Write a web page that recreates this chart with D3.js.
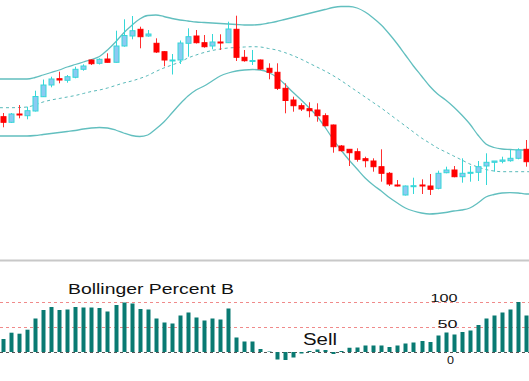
<!DOCTYPE html>
<html><head><meta charset="utf-8">
<script src="https://cdn.jsdelivr.net/npm/d3@7"></script>
<style>html,body{margin:0;padding:0;background:#fff;}svg{display:block;}</style>
</head><body>
<svg id="chart" width="529" height="381"></svg>
<script>
// ---------- data ----------
const open  = [133.3,127.7,136,134.3,139,153.3,165,171.3,169.7,172.7,180.7,190,186.7,191,187.7,204,214,220.7,214,206.7,198.3,189.8,190,206.7,214,207.3,204,208,207.3,220.7,192.7,189.2,190,181.7,177.7,161.7,150,144.3,141.3,140,134.3,125,104,100.7,98.3,91.3,89,83.3,76.7,65,55,64.1,65,64,61.7,77.3,80,73.3,77.5,77.7,84,87.7,88.7,89.3,91.7,100.7];
const high  = [137,137,145,143.3,159.3,170.5,173.3,178.3,175,183.3,185.7,190.7,191.7,196.7,219.3,230.7,234,223.3,220,211.7,199,196,209.5,221.7,220,215,216,215.7,228.3,234.3,200,200,190.5,186.7,186.7,166.7,153.3,146.7,147.7,146.7,136.7,125.5,105,101,101.7,93.3,91.7,100.7,78,70,64.5,72.3,70.7,76,79.3,83.3,84,91.7,84,89,96.7,89,93.3,100,101.7,110];
const low   = [122.7,127,131.7,130.7,138.5,153,162.7,166.7,167.3,171.7,179.3,185,185.5,187.5,187.5,203.3,210.7,201.7,213.3,197,183.7,175.5,186,193.3,206.5,202.3,200.7,200,207,189,188.3,185,180,170.7,160,136.7,138.3,139,132.7,128.3,123.5,97.3,98.5,84,88.3,82.7,78.3,68.3,64,63.5,54.5,56,56,55,60.7,76.7,72.7,67.3,68.3,69,65,78.3,86.7,88.3,90.7,83.3];
const close = [127.7,136,135.2,139.3,153.5,165,171,170,173.3,180.7,184,186.3,190.7,187.7,204,214.5,219.3,213.3,216,198,190,190,207,213.3,207.3,203.3,208,207.4,221,192.7,189.3,189.5,181,177.7,161.7,149.5,144.3,141,139.3,134.3,124.3,103.3,99.3,97.3,90.7,89.3,83.3,76.7,66,64.5,64,64.3,64.4,60.7,76.7,80,73.3,76.7,77.7,83.3,87.7,89,90,91.7,100,88.3];

const upperBand  = [171,171,171,171,172.5,175,177.5,180,183,185.5,188,190.5,193.5,200,208,217,224.5,231,234.5,235,233.5,231.5,230,229,228,227.5,227,226.5,226,225.5,225,225,225.5,227,228.5,230.5,232.5,234.5,236.5,238.5,240.5,242.5,243.5,243.5,242,238,232,225,216,206,195,184,174,164,156,150,143,135,126,115,106,102.5,101,100.5,100,100];
const middleBand = [142.3,142.3,142.5,143,145,148,150,151.5,153,154.5,156.5,158.5,160,162,164.5,167,169,171.5,174.5,178.5,182,185,188,192,195,197.5,199.5,201,202,202.5,203,203.3,203,201.5,200,197.5,194.5,191,187,183,179,174.5,169.5,164,158.5,153,147.5,142,136,130,124,118,112,107,102,98,94,90,86,83,80.5,79,78.3,78.3,78.3,78.3];
const lowerBand  = [114,114,114,114,114.5,115.5,116.5,117.5,118.5,119.5,121,122,122.5,122,120,117,114.5,113.5,115,121,128,137,146,154,160,164,169,174,177,179,180,180.5,180,177.5,173,166,158,150.5,142.5,134,123,111,100,90,81,72,65,59,52.5,47,42,39,37,36,36.5,37.5,39,40,42,47,53,55.5,57,57.3,57,56];

const percentB = [26,38.6,36.6,44.6,67,84,90,84,85,90,89,89,88,81,94,99,97,86,85,67,59,57,
                  73,79,69,63,67,65,87,29,21,21,6,1,-15,-16,-11,-3,2,5,4,-4,2,8.5,
                  9,13,13,13,10,13,17,19,22,20,33,39,35,40,43,54,67,73,79,85,100,73];

const levelTicks = [0, 50, 100];
const levelLabels = ["0", "50", "100"];
const titleText = "Bollinger Percent B";
const signalText = "Sell";

// ---------- layout ----------
const W = 529, H = 381;
const svg = d3.select("#chart");
const n = open.length;
const idx = d3.range(n);

const x = d3.scaleLinear().domain([-0.35, n - 0.65]).range([0, W]);
const y = d3.scaleLinear().domain([0, 250]).range([250, 0]);
const yB = d3.scaleLinear().domain([0, 100]).range([352, 302]);

const px = i => Math.round(x(i)) + 0.5;

// ---------- bands ----------
function bandPts(arr) {
  const pts = arr.map((v, i) => [x(i), y(v)]);
  return [[0, y(arr[0])], ...pts, [W, y(arr[arr.length - 1])]];
}
const line = d3.line().curve(d3.curveMonotoneX);
const bandColor = "#62bfbf";
svg.append("path").attr("d", line(bandPts(upperBand))).attr("fill", "none")
  .attr("stroke", bandColor).attr("stroke-width", 1.3);
svg.append("path").attr("d", line(bandPts(lowerBand))).attr("fill", "none")
  .attr("stroke", bandColor).attr("stroke-width", 1.3);
svg.append("path").attr("d", line(bandPts(middleBand))).attr("fill", "none")
  .attr("stroke", "#58b9b9").attr("stroke-width", 1).attr("stroke-dasharray", "3,3");

// ---------- candles ----------
const bullFill = "#8ccaf2", bullLine = "#35d8d8", bear = "#ff0000";
const g = svg.append("g");
idx.forEach(i => {
  const bull = close[i] >= open[i];
  const cx = px(i);
  const col = bull ? bullLine : bear;
  g.append("line").attr("x1", cx).attr("x2", cx)
    .attr("y1", y(high[i])).attr("y2", y(low[i]))
    .attr("stroke", bull ? bullLine : "#ff3030").attr("stroke-width", 1);
  const top = y(Math.max(open[i], close[i]));
  const bot = y(Math.min(open[i], close[i]));
  const h = Math.max(1, bot - top);
  g.append("rect").attr("x", cx - 2.5).attr("y", top).attr("width", 5).attr("height", h)
    .attr("fill", bull ? bullFill : bear).attr("stroke", col).attr("stroke-width", 1);
});

// ---------- divider ----------
svg.append("line").attr("x1", 0).attr("x2", W).attr("y1", 260.5).attr("y2", 260.5)
  .attr("stroke", "#c8c8c8").attr("stroke-width", 2);

// ---------- %B panel ----------
[100, 50].forEach(v => {
  svg.append("line").attr("x1", 0).attr("x2", W).attr("y1", yB(v) + 0.5).attr("y2", yB(v) + 0.5)
    .attr("stroke", "#f08a8a").attr("stroke-width", 1).attr("stroke-dasharray", "3,3");
});
svg.append("line").attr("x1", 0).attr("x2", W).attr("y1", yB(0) + 0.5).attr("y2", yB(0) + 0.5)
  .attr("stroke", "#555").attr("stroke-width", 1).attr("stroke-dasharray", "3,3");

svg.append("g").selectAll("rect").data(percentB).join("rect")
  .attr("x", (d, i) => Math.round(x(i)) - 1.5)
  .attr("y", d => yB(Math.max(0, d)))
  .attr("width", 4)
  .attr("height", d => Math.abs(yB(d) - yB(0)))
  .attr("fill", "#097a72");

// ---------- texts ----------
svg.append("text").attr("x", 68).attr("y", 294).text(titleText)
  .attr("font-family", "Liberation Sans, Arial, sans-serif").attr("font-size", 15)
  .attr("textLength", 166).attr("lengthAdjust", "spacingAndGlyphs").attr("fill", "#111");
svg.append("text").attr("x", 303).attr("y", 345).text(signalText)
  .attr("font-family", "Liberation Sans, Arial, sans-serif").attr("font-size", 16)
  .attr("textLength", 34).attr("lengthAdjust", "spacingAndGlyphs").attr("fill", "#111");

const labelPos = [{x: 447, y: 364, w: 7}, {x: 437.5, y: 327.7, w: 20}, {x: 430.5, y: 302.3, w: 27}];
levelTicks.forEach((t, k) => {
  svg.append("text").attr("x", labelPos[k].x).attr("y", labelPos[k].y).text(levelLabels[k])
    .attr("font-family", "Liberation Sans, Arial, sans-serif").attr("font-size", 11.5)
    .attr("textLength", labelPos[k].w).attr("lengthAdjust", "spacingAndGlyphs").attr("fill", "#111");
});
</script>
</body></html>
